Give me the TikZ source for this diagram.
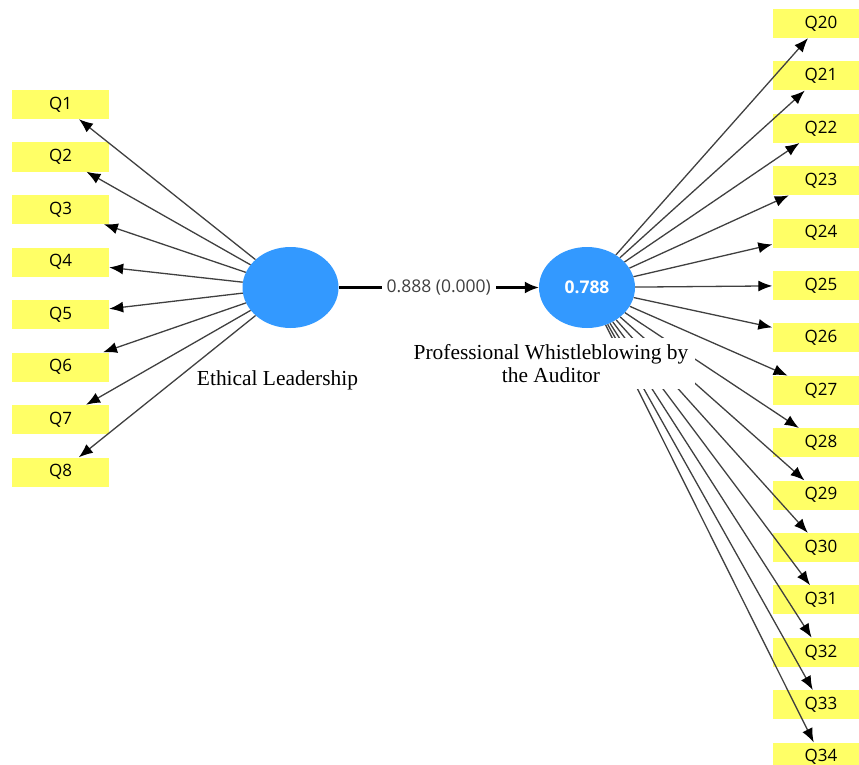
\documentclass[tikz,border=0pt]{standalone}
\usepackage{fontspec}
\setmainfont{Liberation Serif}
\setsansfont{Open Sans}
\usetikzlibrary{arrows.meta, positioning, shapes.geometric}

\definecolor{plsblue}{RGB}{51,153,255}
\definecolor{plsyellow}{RGB}{255,255,102}

\tikzset{
	latent/.style={ellipse, fill=plsblue, minimum width=96pt, minimum height=81pt, inner sep=0pt,
		text=white, font=\sffamily\bfseries\fontsize{17.5}{20}\selectfont},
	item/.style={rectangle, fill=plsyellow, minimum width=97pt, minimum height=29pt, inner sep=0pt,
		font=\sffamily\fontsize{17}{20}\selectfont},
	load/.style={draw=black!75, line width=1.3pt, -{Latex[length=14pt, width=11pt, color=black]}},
	structural/.style={draw=black, line width=2.2pt, -{Latex[length=14pt, width=12pt]}},
	coef/.style={fill=white, inner sep=5pt, text=black!75, font=\sffamily\fontsize{17.5}{20}\selectfont},
	latentname/.style={font=\fontsize{21.4}{22.5}\selectfont}
}

\begin{document}
\begin{tikzpicture}[x=1pt, y=-1pt]
	\useasboundingbox (0,0) rectangle (859,765);

	\node[latent] (el) at (290.5,287.5) {};
	\node[latent] (pw) at (587,287.5) {0.788};

	\node[item] (q1) at (60.5,104.5) {Q1};
	\node[item, below=23.1pt of q1] (q2) {Q2};
	\node[item, below=23.1pt of q2] (q3) {Q3};
	\node[item, below=23.1pt of q3] (q4) {Q4};
	\node[item, below=23.1pt of q4] (q5) {Q5};
	\node[item, below=23.1pt of q5] (q6) {Q6};
	\node[item, below=23.1pt of q6] (q7) {Q7};
	\node[item, below=23.1pt of q7] (q8) {Q8};

	\node[item] (q20) at (821,23.5) {Q20};
	\node[item, below=23pt of q20] (q21) {Q21};
	\node[item, below=23pt of q21] (q22) {Q22};
	\node[item, below=23pt of q22] (q23) {Q23};
	\node[item, below=23pt of q23] (q24) {Q24};
	\node[item, below=23pt of q24] (q25) {Q25};
	\node[item, below=23pt of q25] (q26) {Q26};
	\node[item, below=23pt of q26] (q27) {Q27};
	\node[item, below=23pt of q27] (q28) {Q28};
	\node[item, below=23pt of q28] (q29) {Q29};
	\node[item, below=23pt of q29] (q30) {Q30};
	\node[item, below=23pt of q30] (q31) {Q31};
	\node[item, below=23pt of q31] (q32) {Q32};
	\node[item, below=23pt of q32] (q33) {Q33};
	\node[item, below=23pt of q33] (q34) {Q34};

	\draw[load]
	(el) edge (q1)
	(el) edge (q2)
	(el) edge (q3)
	(el) edge (q4)
	(el) edge (q5)
	(el) edge (q6)
	(el) edge (q7)
	(el) edge (q8);

	\draw[load]
	(pw) edge (q20)
	(pw) edge (q21)
	(pw) edge (q22)
	(pw) edge (q23)
	(pw) edge (q24)
	(pw) edge (q25)
	(pw) edge (q26)
	(pw) edge (q27)
	(pw) edge (q28)
	(pw) edge (q29)
	(pw) edge (q30)
	(pw) edge (q31)
	(pw) edge (q32)
	(pw) edge (q33)
	(pw) edge (q34);

	\draw[structural] (el) -- node[coef] {0.888 (0.000)} (pw);

	% construct names
	\node[latentname, anchor=base] (elname) at (277.5,385) {Ethical Leadership};
	\node[latentname, fill=white, inner sep=7pt, align=center] (pwname) at (551,363.5)
		{Professional Whistleblowing by\\the Auditor};
\end{tikzpicture}
\end{document}
